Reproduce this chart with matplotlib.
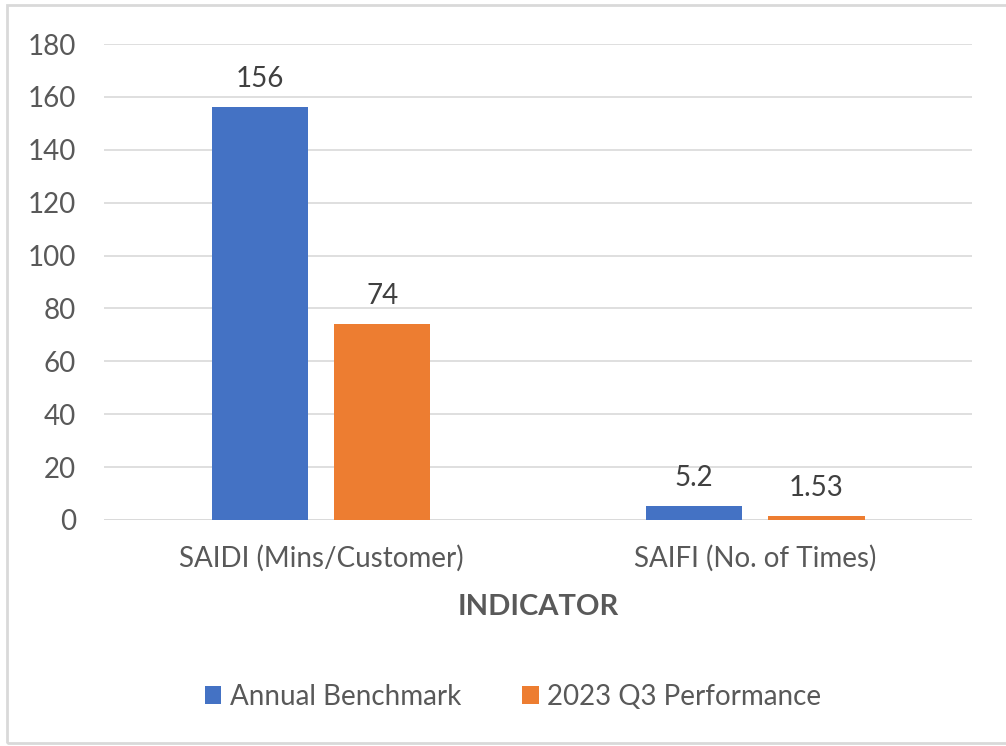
import matplotlib
matplotlib.use("Agg")
import matplotlib.pyplot as plt
from matplotlib.patches import Rectangle
import numpy as np

categories = ["SAIDI (Mins/Customer)", "SAIFI (No. of Times)"]
series_names = ["Annual Benchmark", "2023 Q3 Performance"]
benchmark = [156, 5.2]
q3_perf = [74, 1.53]
value_labels = [["156", "5.2"], ["74", "1.53"]]
y_ticks = [0, 20, 40, 60, 80, 100, 120, 140, 160, 180]

BLUE = "#4472C4"
ORANGE = "#ED7D31"
TEXT = "#595959"
GRID = "#D9D9D9"


def main():
    plt.rcParams["font.family"] = ["Lato", "DejaVu Sans"]
    fig = plt.figure(figsize=(10.06, 7.46), dpi=100)
    ax = fig.add_axes([0.1034, 0.303, 0.863, 0.638])

    x = np.arange(len(categories))
    width = 0.222
    offset = 0.141
    bars1 = ax.bar(x - offset, benchmark, width, color=BLUE, label=series_names[0], zorder=3)
    bars2 = ax.bar(x + offset, q3_perf, width, color=ORANGE, label=series_names[1], zorder=3)

    for bars, labels in zip([bars1, bars2], value_labels):
        for b, lab in zip(bars, labels):
            ax.annotate(lab, (b.get_x() + b.get_width() / 2, b.get_height()),
                        xytext=(0, 11), textcoords="offset points",
                        ha="center", va="bottom", fontsize=20, color="#404040")

    ax.set_xlim(-0.5, 1.5)
    ax.set_ylim(0, 180)
    ax.set_yticks(y_ticks)
    ax.set_xticks(x)
    ax.set_xticklabels(categories)
    ax.tick_params(axis="both", length=0, labelsize=20, labelcolor=TEXT)
    ax.tick_params(axis="y", pad=20)
    ax.tick_params(axis="x", pad=18)
    ax.yaxis.grid(True, color=GRID, linewidth=1.2, zorder=0)
    for s in ax.spines.values():
        s.set_visible(False)
    ax.axhline(0, color=GRID, linewidth=1.2, zorder=2)

    ax.set_xlabel("INDICATOR", fontsize=21, fontweight="bold", color=TEXT, labelpad=16)

    fig.legend(loc="center", bbox_to_anchor=(0.51, 0.066), ncol=2, frameon=False,
               fontsize=20, labelcolor=TEXT, handlelength=0.6, handleheight=0.6,
               handletextpad=0.3, columnspacing=2.2)

    fig.patches.append(Rectangle((7 / 1006, 0.004), 1.2, 0.989, transform=fig.transFigure,
                                 fill=False, edgecolor="#D9D9D9", linewidth=2))

    plt.savefig("out.png")


if __name__ == "__main__":
    main()
